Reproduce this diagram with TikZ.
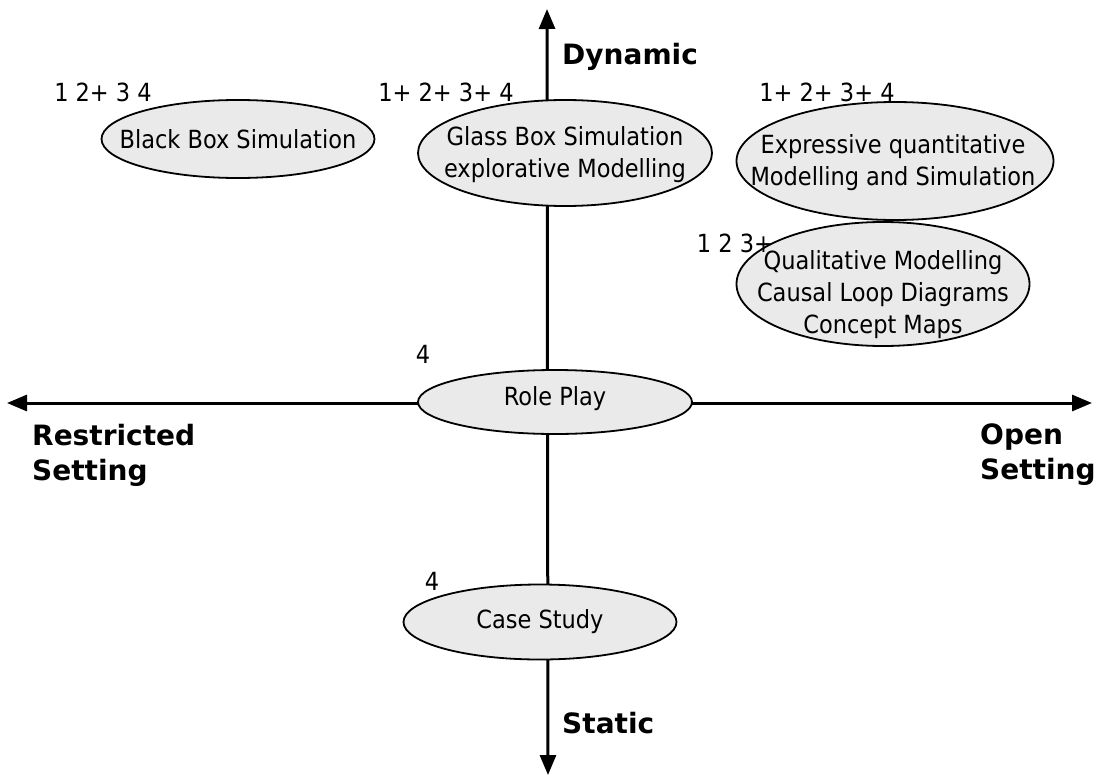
\documentclass[tikz,border=0pt]{standalone}
\usepackage{fontspec}
\setmainfont{DejaVu Sans Condensed}
\newfontfamily\labfont{DejaVu Sans}
\usetikzlibrary{shapes.geometric,arrows.meta}
\definecolor{ellgray}{RGB}{234,234,234}
\begin{document}
\begin{tikzpicture}[x=1pt,y=-1pt,
  ell/.style={ellipse, draw=black, line width=1.8pt, fill=ellgray, inner sep=0pt},
  txt/.style={font=\fontsize{25}{32}\selectfont, align=center, inner sep=0pt},
  num/.style={font=\fontsize{25}{30}\selectfont, inner sep=0pt},
  axislab/.style={font={\labfont\bfseries\fontsize{28}{35}\selectfont}, align=left, inner sep=0pt},
  axisline/.style={line width=3pt, {Triangle[length=20pt,width=16pt]}-{Triangle[length=20pt,width=16pt]}}
]
\useasboundingbox (0,0) rectangle (1099,776);
% axes
\coordinate (top) at (547,9);
\coordinate (bot) at (548,775);
\coordinate (lft) at (7,403);
\coordinate (rgt) at (1092,403);
\draw[axisline] (bot) -- (top);
\draw[axisline] (lft) -- (rgt);
% ellipses
\node[ell, minimum width=273pt, minimum height=78pt] (bb) at (238,139) {};
\node[txt] (bbt) at (bb) {Black Box Simulation};
\node[ell, minimum width=294pt, minimum height=106pt] (gb) at (565,153) {};
\node[txt] (gbt) at (565,155) {Glass Box Simulation\\explorative Modelling};
\node[ell, minimum width=317pt, minimum height=118pt] (eq) at (895,161) {};
\node[txt] (eqt) at (893,163) {Expressive quantitative\\Modelling and Simulation};
\node[ell, minimum width=293pt, minimum height=124pt] (qm) at (883,284) {};
\node[txt] (qmt) at (883,295) {Qualitative Modelling\\Causal Loop Diagrams\\Concept Maps};
\node[ell, minimum width=274pt, minimum height=64pt] (rp) at (555,402) {};
\node[txt] (rpt) at (555,399) {Role Play};
\node[ell, minimum width=273pt, minimum height=75pt] (cs) at (540,622) {};
\node[txt] (cst) at (cs) {Case Study};
% number labels
\node[num] (nbb) at (103,92) {1 2+ 3 4};
\node[num] (ngb) at (446,92) {1+ 2+ 3+ 4};
\node[num] (neq) at (827,92) {1+ 2+ 3+ 4};
\node[num] (nqm) at (735,243) {1 2 3+};
\node[num] (nrp) at (423,354) {4};
\node[num] (ncs) at (432,581) {4};
% axis labels
\node[axislab, anchor=west] (dyn) at (562,57) {Dynamic};
\node[axislab, anchor=west] (sta) at (562,723) {Static};
\node[axislab, anchor=west] (res) at (32,455) {Restricted\\Setting};
\node[axislab, anchor=west] (ope) at (980,455) {Open\\Setting};
\end{tikzpicture}
\end{document}
